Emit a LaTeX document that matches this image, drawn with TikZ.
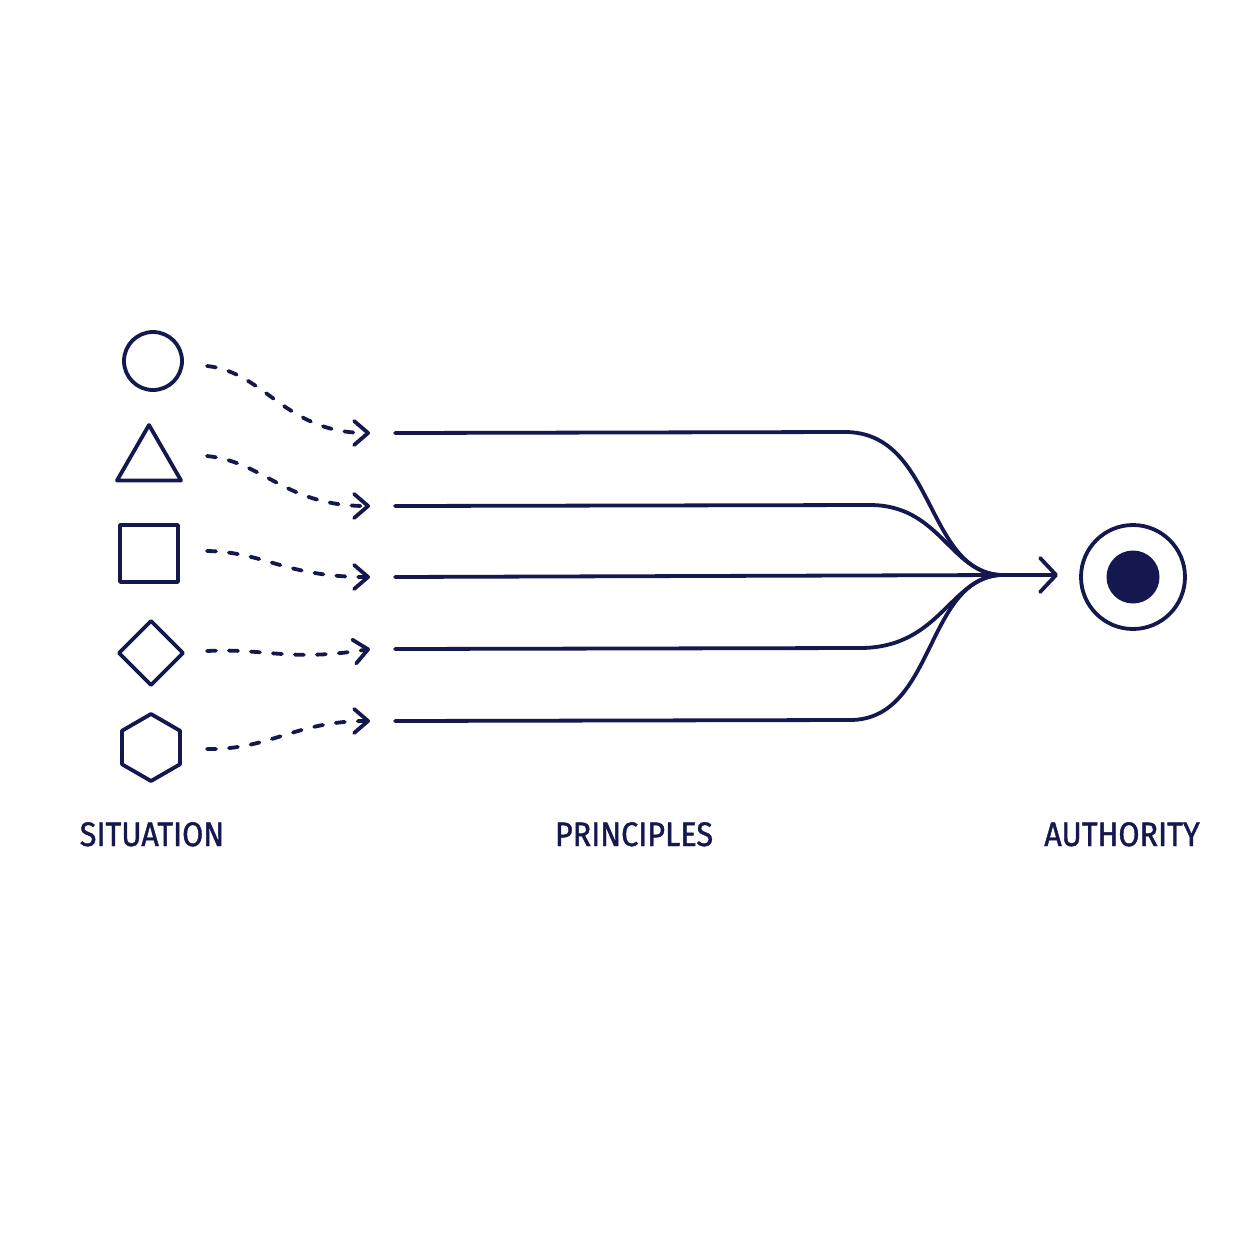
\documentclass[tikz,border=0pt]{standalone}
\usepackage{fontspec}
\setmainfont[FakeStretch=0.9,FakeBold=1.2]{Fira Sans}
\usetikzlibrary{arrows.meta,shapes.geometric}
\definecolor{ink}{RGB}{20,24,78}
\begin{document}
\begin{tikzpicture}[x=1pt,y=-1pt,
  line width=3.8pt, line cap=round, line join=round,
  shapebox/.style={draw=ink, line width=3.8pt, inner sep=0pt, outer sep=0pt},
  dashflow/.style={draw=ink, line width=3.8pt, dash pattern=on 9pt off 13pt, -{Straight Barb[length=14pt,width=24pt,line cap=round,line join=round]}},
  flow/.style={draw=ink, line width=3.8pt},
  label/.style={text=ink, font=\fontsize{34}{36}\selectfont, inner sep=0pt, anchor=base}]
\useasboundingbox (0,0) rectangle (1254,1254);
\fill[white] (0,0) rectangle (1254,1254);
% situation shapes
\node[shapebox, circle, minimum size=58pt] (s1) at (153,361) {};
\node[shapebox, regular polygon, regular polygon sides=3, minimum size=74pt] (s2) at (149,462) {};
\node[shapebox, rectangle, minimum width=58pt, minimum height=57pt] (s3) at (149,553.5) {};
\node[shapebox, diamond, minimum width=64pt, minimum height=64pt] (s4) at (151,653) {};
\node[shapebox, regular polygon, regular polygon sides=6, shape border rotate=30, minimum size=67pt] (s5) at (151,747.5) {};
% dashed arrow ends
\coordinate (d1a) at (207,366); \coordinate (d1b) at (370,433);
\coordinate (d2a) at (207,456); \coordinate (d2b) at (370,506);
\coordinate (d3a) at (207,551); \coordinate (d3b) at (370,577);
\coordinate (d4a) at (207,651); \coordinate (d4b) at (370,649);
\coordinate (d5a) at (207,749); \coordinate (d5b) at (370,721);
\draw[dashflow] (d1a) .. controls (265,372) and (285,433) .. (d1b);
\draw[dashflow] (d2a) .. controls (265,462) and (285,506) .. (d2b);
\draw[dashflow] (d3a) .. controls (265,552) and (285,577) .. (d3b);
\draw[dashflow] (d4a) .. controls (265,648) and (290,662) .. (d4b);
\draw[dashflow] (d5a) .. controls (270,750) and (295,721) .. (d5b);
% principle lines
\coordinate (p1) at (395,433);
\coordinate (p2) at (395,506);
\coordinate (p3) at (395,577);
\coordinate (p4) at (395,649);
\coordinate (p5) at (395,721);
\coordinate (m) at (1000,575);
\coordinate (tip) at (1058,575);
\draw[flow] (p1) -- (845,432) .. controls (935,432) and (925,570) .. (m);
\draw[flow] (p2) -- (870,505) .. controls (940,505) and (950,572) .. (m);
\draw[flow] (p4) -- (860,648) .. controls (940,648) and (950,578) .. (m);
\draw[flow] (p5) -- (850,720) .. controls (935,720) and (925,580) .. (m);
\draw[flow, -{Straight Barb[length=16pt,width=34pt,line cap=round,line join=round]}] (p3) -- (m) -- (tip);
% authority target
\node[shapebox, circle, minimum size=104pt] (t) at (1133,577) {};
\node[circle, fill=ink, minimum size=53pt, inner sep=0pt] (tc) at (t.center) {};
% labels
\node[label] (l1) at (152,846) {SITUATION};
\node[label] (l2) at (634,846) {PRINCIPLES};
\node[label] (l3) at (1122,846) {AUTHORITY};
\end{tikzpicture}
\end{document}
